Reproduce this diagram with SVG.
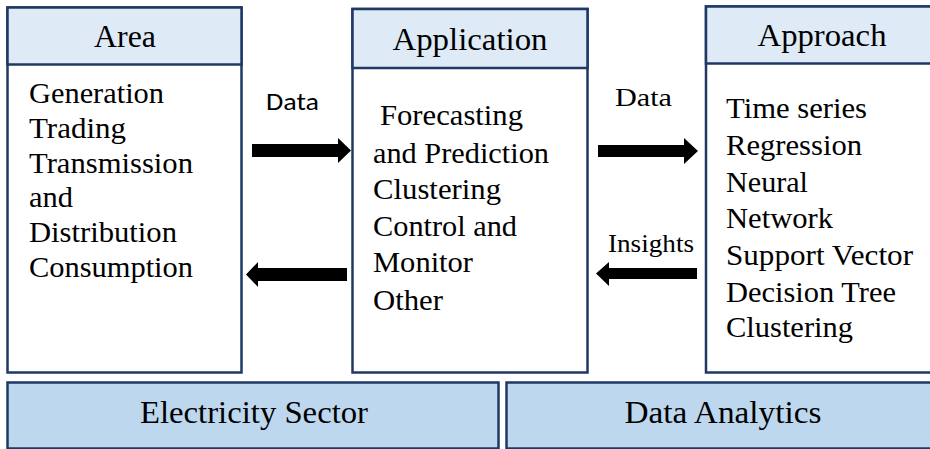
<svg xmlns="http://www.w3.org/2000/svg" width="930" height="449" viewBox="0 0 930 449">
  <style>
    .frame { fill: #ffffff; stroke: #1f3864; stroke-width: 2.5; }
    .head { fill: #deebf7; stroke: #1f3864; stroke-width: 2.5; }
    .band { fill: #bdd7ee; stroke: #1f3864; stroke-width: 2.5; }
    .serif { font-family: 'Times New Roman', Times, 'Liberation Serif', Tinos, 'Nimbus Roman', FreeSerif, 'Noto Serif', 'DejaVu Serif', serif; fill: #000; }
    .title { font-size: 32px; text-anchor: middle; }
    .body { font-size: 30px; }
    .label { font-size: 26px; }
    .sans { font-family: Calibri, Carlito, 'Open Sans', 'Liberation Sans', sans-serif; font-size: 24px; fill: #000; }
    .arrow { fill: #000; }
  </style>

  <!-- Column: Area -->
  <g id="area">
    <rect class="frame" x="7.5" y="7.5" width="234" height="365"/>
    <rect class="head" x="7.5" y="7.5" width="234" height="57"/>
    <text class="serif title" x="125" y="47" textLength="62" lengthAdjust="spacingAndGlyphs">Area</text>
    <text class="serif body" x="29" y="103" textLength="135" lengthAdjust="spacingAndGlyphs">Generation</text>
    <text class="serif body" x="29" y="138" textLength="97" lengthAdjust="spacingAndGlyphs">Trading</text>
    <text class="serif body" x="29" y="173" textLength="164" lengthAdjust="spacingAndGlyphs">Transmission</text>
    <text class="serif body" x="29" y="207" textLength="44" lengthAdjust="spacingAndGlyphs">and</text>
    <text class="serif body" x="29" y="242" textLength="148" lengthAdjust="spacingAndGlyphs">Distribution</text>
    <text class="serif body" x="29" y="277" textLength="164" lengthAdjust="spacingAndGlyphs">Consumption</text>
  </g>

  <!-- Column: Application -->
  <g id="application">
    <rect class="frame" x="352.5" y="9" width="235" height="363.5"/>
    <rect class="head" x="352.5" y="9" width="235" height="59"/>
    <text class="serif title" x="470" y="50" textLength="155" lengthAdjust="spacingAndGlyphs">Application</text>
    <text class="serif body" x="380" y="125" textLength="143" lengthAdjust="spacingAndGlyphs">Forecasting</text>
    <text class="serif body" x="373" y="163" textLength="176" lengthAdjust="spacingAndGlyphs">and Prediction</text>
    <text class="serif body" x="373" y="199" textLength="128" lengthAdjust="spacingAndGlyphs">Clustering</text>
    <text class="serif body" x="373" y="236" textLength="144" lengthAdjust="spacingAndGlyphs">Control and</text>
    <text class="serif body" x="373" y="272" textLength="100" lengthAdjust="spacingAndGlyphs">Monitor</text>
    <text class="serif body" x="373" y="310" textLength="70" lengthAdjust="spacingAndGlyphs">Other</text>
  </g>

  <!-- Column: Approach -->
  <g id="approach">
    <rect class="frame" x="706" y="6.5" width="230" height="366"/>
    <rect class="head" x="706" y="6.5" width="230" height="57"/>
    <text class="serif title" x="822" y="46" textLength="129" lengthAdjust="spacingAndGlyphs">Approach</text>
    <text class="serif body" x="726" y="118" textLength="141" lengthAdjust="spacingAndGlyphs">Time series</text>
    <text class="serif body" x="726" y="155" textLength="136" lengthAdjust="spacingAndGlyphs">Regression</text>
    <text class="serif body" x="726" y="192" textLength="82" lengthAdjust="spacingAndGlyphs">Neural</text>
    <text class="serif body" x="726" y="228" textLength="107" lengthAdjust="spacingAndGlyphs">Network</text>
    <text class="serif body" x="726" y="265" textLength="187" lengthAdjust="spacingAndGlyphs">Support Vector</text>
    <text class="serif body" x="726" y="302" textLength="170" lengthAdjust="spacingAndGlyphs">Decision Tree</text>
    <text class="serif body" x="726" y="337" textLength="127" lengthAdjust="spacingAndGlyphs">Clustering</text>
  </g>

  <!-- Bottom bands -->
  <g id="electricity-sector">
    <rect class="band" x="7.5" y="382.5" width="491" height="66"/>
    <text class="serif title" x="254" y="423" textLength="228" lengthAdjust="spacingAndGlyphs">Electricity Sector</text>
  </g>
  <g id="data-analytics">
    <rect class="band" x="506.5" y="382.5" width="430" height="66"/>
    <text class="serif title" x="723" y="423" textLength="197" lengthAdjust="spacingAndGlyphs">Data Analytics</text>
  </g>

  <!-- Flow arrows between the columns -->
  <g id="connectors">
    <polygon class="arrow" points="252,144 338,144 338,138 351,150.5 338,163 338,157 252,157"/>
    <text class="sans" x="266" y="110" textLength="53" lengthAdjust="spacingAndGlyphs">Data</text>
    <polygon class="arrow" points="347,268 258,268 258,262 246,274.5 258,287 258,281 347,281"/>
    <polygon class="arrow" points="598,145 684,145 684,138 698,151 684,164 684,157 598,157"/>
    <text class="serif label" x="615" y="106" textLength="57" lengthAdjust="spacingAndGlyphs">Data</text>
    <polygon class="arrow" points="697,268 609,268 609,262 596,273.5 609,286 609,279 697,279"/>
    <text class="serif label" x="608" y="252" textLength="86" lengthAdjust="spacingAndGlyphs">Insights</text>
  </g>
</svg>
